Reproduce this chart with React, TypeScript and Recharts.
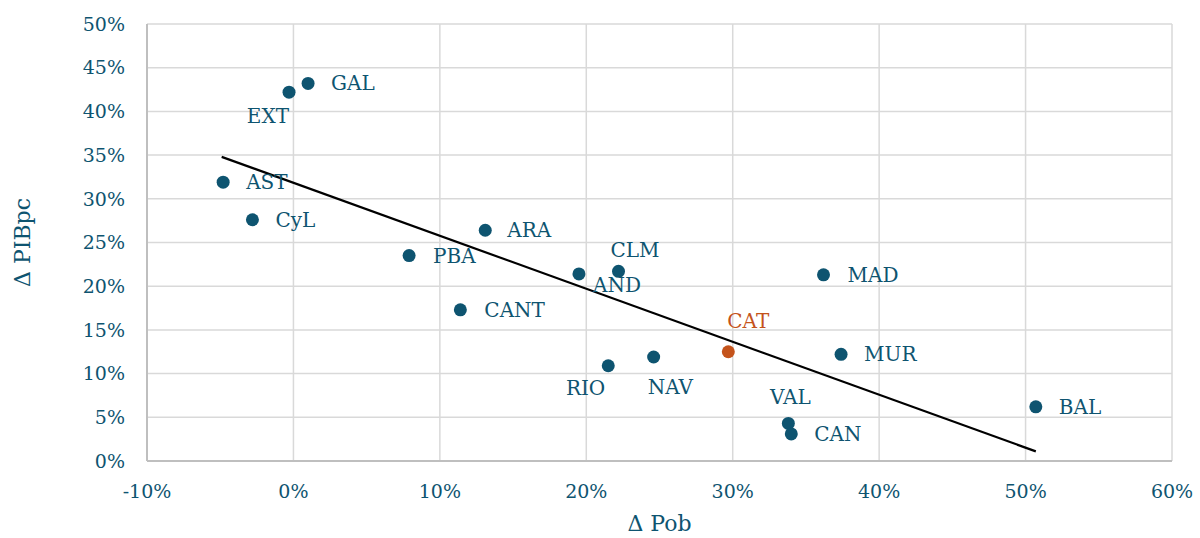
import React from 'react';
import {
  ScatterChart,
  Scatter,
  XAxis,
  YAxis,
  CartesianGrid,
  ReferenceLine,
  LabelList,
  Label,
} from 'recharts';

// regions: population change vs GDP per capita change (%)
const regions = ['GAL', 'EXT', 'AST', 'CyL', 'PBA', 'ARA', 'CANT', 'AND', 'CLM', 'RIO', 'NAV', 'CAT', 'MAD', 'MUR', 'VAL', 'CAN', 'BAL'];
const pobValues = [1.0, -0.3, -4.8, -2.8, 7.9, 13.1, 11.4, 19.5, 22.2, 21.5, 24.6, 29.7, 36.2, 37.4, 33.8, 34.0, 50.7];
const pibValues = [43.2, 42.2, 31.9, 27.6, 23.5, 26.4, 17.3, 21.4, 21.7, 10.9, 11.9, 12.5, 21.3, 12.2, 4.3, 3.1, 6.2];
const trendStart = { x: -4.9, y: 34.8 };
const trendEnd = { x: 50.7, y: 1.1 };
const xTicks = [-10, 0, 10, 20, 30, 40, 50, 60];
const yTicks = [0, 5, 10, 15, 20, 25, 30, 35, 40, 45, 50];

const TEAL = '#0e5470';
const ORANGE = '#c4531b';
const FONT = "Georgia, 'DejaVu Serif', serif";

// label placement around each dot: dx, dy, anchor
const labelPos: Record<string, [number, number, string]> = {
  GAL: [23, 0, 'start'],
  EXT: [0, 24, 'end'],
  AST: [23, 0, 'start'],
  CyL: [23, 0, 'start'],
  PBA: [24, 0, 'start'],
  ARA: [22, 0, 'start'],
  CANT: [24, 0, 'start'],
  AND: [14, 11, 'start'],
  CLM: [-8, -21, 'start'],
  RIO: [-3, 22, 'end'],
  NAV: [-6, 30, 'start'],
  CAT: [-1, -31, 'start'],
  MAD: [24, 0, 'start'],
  MUR: [23, 0, 'start'],
  VAL: [2, -26, 'middle'],
  CAN: [23, 0, 'start'],
  BAL: [23, 0, 'start'],
};

const data = regions.map((name, i) => ({ name, x: pobValues[i], y: pibValues[i] }));

const dotColor = (name: string) => (name === 'CAT' ? ORANGE : TEAL);

const Dot = (props: any) => {
  const { cx, cy, payload } = props;
  return <circle cx={cx} cy={cy} r={6.5} fill={dotColor(payload.name)} />;
};

const RegionLabel = (props: any) => {
  const { x, y, width, height, value } = props;
  const cx = x + width / 2;
  const cy = y + height / 2;
  const [dx, dy, anchor] = labelPos[value] || [20, 0, 'start'];
  return (
    <text
      x={cx + dx}
      y={cy + dy}
      textAnchor={anchor}
      dominantBaseline="central"
      fill={dotColor(value)}
      fontSize={20}
      fontFamily={FONT}
    >
      {value}
    </text>
  );
};

const tickStyle = { fill: TEAL, fontSize: 19, fontFamily: FONT };

export default function App() {
  return (
    <div style={{ position: 'absolute', left: 0, top: 0, background: '#fff' }}>
      <ScatterChart width={1200} height={538} margin={{ top: 24, right: 28, bottom: 0, left: 0 }}>
        <CartesianGrid stroke="#d9d9d9" strokeWidth={1.5} />
        <XAxis
          type="number"
          dataKey="x"
          domain={[-10, 60]}
          ticks={xTicks}
          tickFormatter={(v) => `${v}%`}
          tick={tickStyle}
          tickLine={false}
          tickMargin={18}
          axisLine={{ stroke: '#bfbfbf', strokeWidth: 2 }}
          height={77}
          interval={0}
        >
          <Label value="Δ Pob" position="insideBottom" offset={7} fill={TEAL} fontSize={22} fontFamily={FONT} />
        </XAxis>
        <YAxis
          type="number"
          dataKey="y"
          domain={[0, 50]}
          ticks={yTicks}
          tickFormatter={(v) => `${v}%`}
          tick={tickStyle}
          tickLine={false}
          tickMargin={16}
          axisLine={{ stroke: '#bfbfbf', strokeWidth: 2 }}
          width={147}
          interval={0}
        >
          <Label value="Δ PIBpc" angle={-90} position="insideLeft" offset={22} fill={TEAL} fontSize={22} fontFamily={FONT} style={{ textAnchor: 'middle' }} />
        </YAxis>
        <ReferenceLine
          segment={[trendStart, trendEnd]}
          stroke="#000"
          strokeWidth={2.2}
          ifOverflow="visible"
        />
        <Scatter data={data} shape={<Dot />} isAnimationActive={false}>
          <LabelList dataKey="name" content={<RegionLabel />} />
        </Scatter>
      </ScatterChart>
    </div>
  );
}
